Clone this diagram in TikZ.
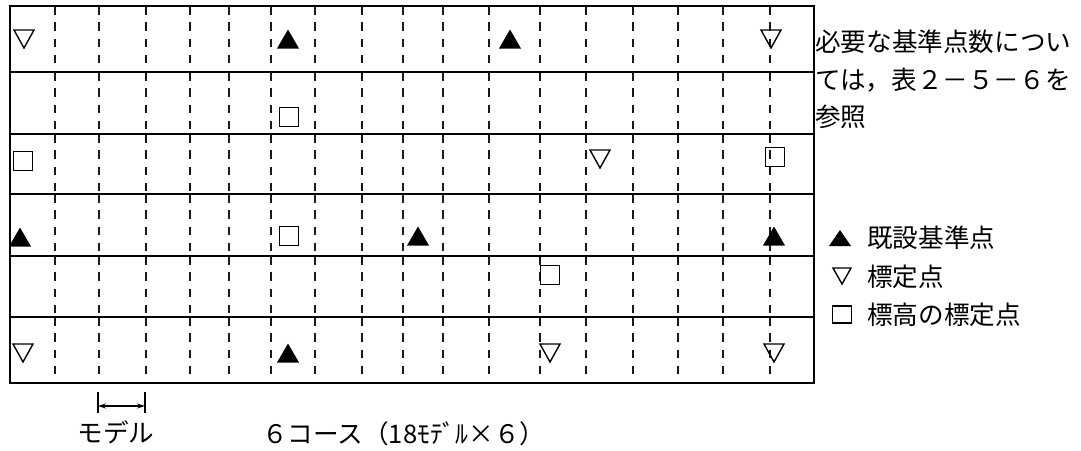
\documentclass[tikz,border=0pt]{standalone}
\usepackage{fontspec}
\newfontfamily\jp{Noto Sans CJK JP}
\usetikzlibrary{arrows.meta}
\newcommand\mkup[3][1]{\fill (#2-11,#3+8*#1+1.5) -- (#2+11,#3+8*#1+1.5) -- (#2,#3-8*#1-1.5) -- cycle;}
\newcommand\mkdown[2]{\draw[mk] (#1-10,#2-9) -- (#1+10,#2-9) -- (#1,#2+9) -- cycle;}
\newcommand\mksq[2]{\draw[mk] (#1-9.5,#2-9.5) rectangle (#1+9.5,#2+9.5);}
\begin{document}
\begin{tikzpicture}[x=1pt,y=-1pt,
  gridline/.style={line width=1.5pt},
  dsh/.style={line width=2pt, dash pattern=on 8.5pt off 7.8pt, draw=black!90},
  mk/.style={line width=1.4pt},
  txt/.style={font=\jp\fontsize{25.6}{30}\selectfont, inner sep=0pt, anchor=base west}]
\useasboundingbox[fill=white] (0,0) rectangle (1081,450);
% dashed model lines
\foreach \t/\b in {6/72,72/134,134/194,194/256,256/317,317/383}{
  \foreach \x in {55,99,146,190,229,271,315,362,403,443,489,540,586,633,678,723,770}
    \draw[dsh] (\x,\t) -- (\x,\b);
}
% course lines
\draw[gridline] (10,6) rectangle (814,383);
\foreach \y in {72,134,194,256,317} \draw[gridline] (10,\y) -- (814,\y);
% row 1
\mkdown{24}{39}
\mkup{288}{39}
\mkup{510}{39}
\mkdown{771}{39}
% row 2
\mksq{289}{117}
% row 3
\mksq{23}{161}
\mkdown{600}{159}
\mksq{775}{157}
% row 4
\mkup{20}{237}
\mksq{289}{236}
\mkup{418}{236}
\mkup{774}{236}
% row 5
\mksq{550}{275}
% row 6
\mkdown{23}{353}
\mkup{288}{353}
\mkdown{550}{353}
\mkdown{774}{353}
% note
\node[txt] (n1) at (815,51) {必要な基準点数につい};
\node[txt] (n2) at (815,89) {ては，表２－５－６を};
\node[txt] (n3) at (815,126) {参照};
% legend
\fill (829,246) -- (851,246) -- (840,230) -- cycle;
\draw[mk] (833,268) -- (851,268) -- (842,284) -- cycle;
\draw[mk] (832.5,306) rectangle (851.5,323);
\node[txt] (l1) at (867,247) {既設基準点};
\node[txt] (l2) at (867,286) {標定点};
\node[txt] (l3) at (867,324) {標高の標定点};
% model span
\coordinate (ma) at (98,406);
\coordinate (mb) at (145,406);
\draw[line width=1.3pt] (98,392) -- (98,413);
\draw[line width=1.3pt] (145,392) -- (145,413);
\draw[line width=1.1pt, {Stealth[length=8pt,width=5pt]}-{Stealth[length=8pt,width=5pt]}] (ma) -- (mb);
\node[txt, anchor=base] (model) at (116,442) {モデル};
\node[txt] (course) at (262,443) {６コース（18ﾓﾃﾞﾙ×６）};
\end{tikzpicture}
\end{document}
